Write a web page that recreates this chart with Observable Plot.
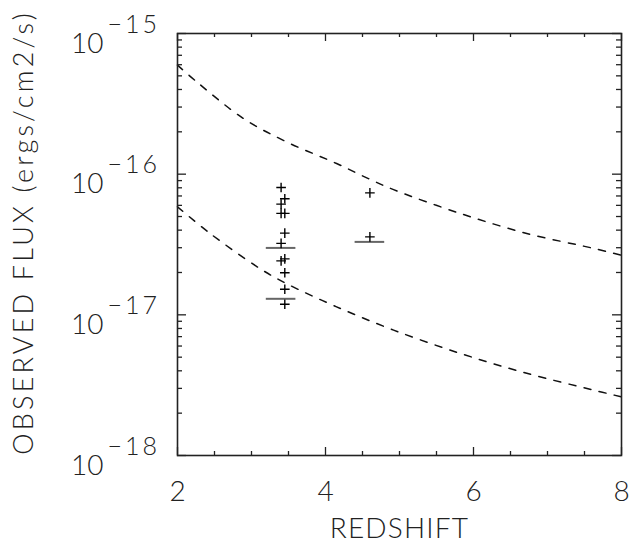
<!DOCTYPE html>
<html>
<head>
<meta charset="utf-8">
<script src="https://cdn.jsdelivr.net/npm/d3@7"></script>
<script src="https://cdn.jsdelivr.net/npm/@observablehq/plot@0.6"></script>
<style>
  html, body { margin: 0; padding: 0; background: #fff; }
</style>
</head>
<body>
<div id="chart"></div>
<script>
// Model curves (dashed)
const upperZ = [2.0, 2.26, 2.89, 3.47, 4.15, 4.58, 4.92, 5.82, 6.72, 7.62, 8.0];
const upperFlux = [5.96e-16, 4.53e-16, 2.49e-16, 1.70e-16, 1.19e-16, 9.3e-17, 7.76e-17, 5.26e-17, 3.79e-17, 2.97e-17, 2.65e-17];
const lowerZ = [2.0, 2.44, 3.11, 3.47, 4.15, 4.92, 5.82, 6.72, 7.62, 8.0];
const lowerFlux = [5.86e-17, 3.79e-17, 2.14e-17, 1.67e-17, 1.14e-17, 7.79e-18, 5.32e-18, 3.84e-18, 2.92e-18, 2.61e-18];

// Detected objects (+)
const pointZ = [3.40, 3.45, 3.40, 3.40, 3.45, 3.45, 3.40, 3.40, 3.45, 3.45, 3.45, 3.45, 4.60, 4.60];
const pointFlux = [8.04e-17, 6.68e-17, 6.12e-17, 5.26e-17, 5.26e-17, 3.81e-17, 3.22e-17, 2.42e-17, 2.50e-17, 1.99e-17, 1.52e-17, 1.19e-17, 7.36e-17, 3.58e-17];

// Flux limit bars
const limZ1 = [3.20, 3.20, 4.40];
const limZ2 = [3.60, 3.60, 4.80];
const limFlux = [2.99e-17, 1.30e-17, 3.30e-17];

// Axis ticks
const xMajorTicks = [2, 4, 6, 8];
const xMinorTicks = [2.5, 3, 3.5, 4.5, 5, 5.5, 6.5, 7, 7.5];
const xTickLabels = ["2", "4", "6", "8"];
const yMajorTicks = [1e-15, 1e-16, 1e-17, 1e-18];
const yTickBase = ["10", "10", "10", "10"];
const yTickExp = ["\u221215", "\u221216", "\u221217", "\u221218"];
const yDecades = [1e-18, 1e-17, 1e-16];
const yMinorMult = [2, 3, 4, 5, 6, 7, 8, 9];
const xTitle = "REDSHIFT";
const yTitle = "OBSERVED FLUX (ergs/cm2/s)";

const upper = upperZ.map((z, i) => ({z, f: upperFlux[i]}));
const lower = lowerZ.map((z, i) => ({z, f: lowerFlux[i]}));
const points = pointZ.map((z, i) => ({z, f: pointFlux[i]}));
const limits = limZ1.map((z1, i) => ({z1, z2: limZ2[i], f: limFlux[i]}));
const yMinorTicks = yDecades.flatMap(d => yMinorMult.map(m => m * d));
const yLabels = yMajorTicks.map((v, i) => ({v, base: yTickBase[i], exp: yTickExp[i]}));
const xLabels = xMajorTicks.map((v, i) => ({v, t: xTickLabels[i]}));

const W = 629, H = 542, mL = 177, mR = 8, mT = 33, mB = 87;
const iW = W - mL - mR, iH = H - mT - mB;
const tickColor = "#222";

const chart = Plot.plot({
  width: W, height: H,
  marginLeft: mL, marginRight: mR, marginTop: mT, marginBottom: mB,
  style: {fontFamily: "Lato, 'DejaVu Sans', sans-serif", fontWeight: 300, color: "#111", background: "#fff", overflow: "visible"},
  x: {domain: [2, 8], axis: null},
  y: {type: "log", domain: [1e-18, 1e-15], axis: null},
  marks: [
    Plot.line(upper, {x: "z", y: "f", stroke: "#111", strokeWidth: 1.5, strokeDasharray: "7,8.5", curve: "catmull-rom"}),
    Plot.line(lower, {x: "z", y: "f", stroke: "#111", strokeWidth: 1.5, strokeDasharray: "7,8.5", curve: "catmull-rom"}),
    Plot.ruleY(limits, {x1: "z1", x2: "z2", y: "f", stroke: "#666", strokeWidth: 2}),
    Plot.dot(points, {x: "z", y: "f", symbol: "plus", r: 3.2, stroke: "#000", strokeWidth: 1.4}),
    // ticks bottom / top
    Plot.tickX(xMajorTicks, {x: d => d, insetTop: iH - 8, stroke: tickColor, strokeWidth: 1.3}),
    Plot.tickX(xMinorTicks, {x: d => d, insetTop: iH - 4, stroke: tickColor, strokeWidth: 1.3}),
    Plot.tickX(xMajorTicks, {x: d => d, insetBottom: iH - 8, stroke: tickColor, strokeWidth: 1.3}),
    Plot.tickX(xMinorTicks, {x: d => d, insetBottom: iH - 4, stroke: tickColor, strokeWidth: 1.3}),
    // ticks left / right
    Plot.tickY(yMajorTicks, {y: d => d, insetRight: iW - 9, stroke: tickColor, strokeWidth: 1.3}),
    Plot.tickY(yMinorTicks, {y: d => d, insetRight: iW - 5, stroke: tickColor, strokeWidth: 1.3}),
    Plot.tickY(yMajorTicks, {y: d => d, insetLeft: iW - 9, stroke: tickColor, strokeWidth: 1.3}),
    Plot.tickY(yMinorTicks, {y: d => d, insetLeft: iW - 5, stroke: tickColor, strokeWidth: 1.3}),
    Plot.frame({stroke: "#222", strokeWidth: 1.6}),
    // x tick labels
    Plot.text(xLabels, {x: "v", text: "t", frameAnchor: "bottom", dy: 45, lineAnchor: "bottom", fontSize: 28, fill: "#222"}),
    // y tick labels
    Plot.text(yLabels, {y: "v", text: "base", frameAnchor: "left", textAnchor: "end", dx: -74, dy: 19, lineAnchor: "bottom", fontSize: 28, fill: "#222"}),
    Plot.text(yLabels, {y: "v", text: "exp", frameAnchor: "left", textAnchor: "start", dx: -70, dy: -1, lineAnchor: "bottom", fontSize: 25, fill: "#222"}),
    // axis titles
    Plot.text([xTitle], {text: d => d, frameAnchor: "bottom", textAnchor: "middle", dy: 82, lineAnchor: "bottom", fontSize: 28, fill: "#222"}),
    Plot.text([yTitle], {text: d => d, frameAnchor: "left", textAnchor: "middle", dx: -145, dy: -12, rotate: -90, lineAnchor: "bottom", fontSize: 27, fill: "#222"})
  ]
});
// wider letter spacing to mimic the stroke font
d3.select(chart).selectAll("text").each(function() {
  const t = this.textContent;
  if (t === yTitle) this.setAttribute("letter-spacing", "3.2");
  else if (t === xTitle) this.setAttribute("letter-spacing", "1.2");
  else if (yTickExp.includes(t)) this.setAttribute("letter-spacing", "3");
});
document.getElementById("chart").appendChild(chart);
</script>
</body>
</html>
